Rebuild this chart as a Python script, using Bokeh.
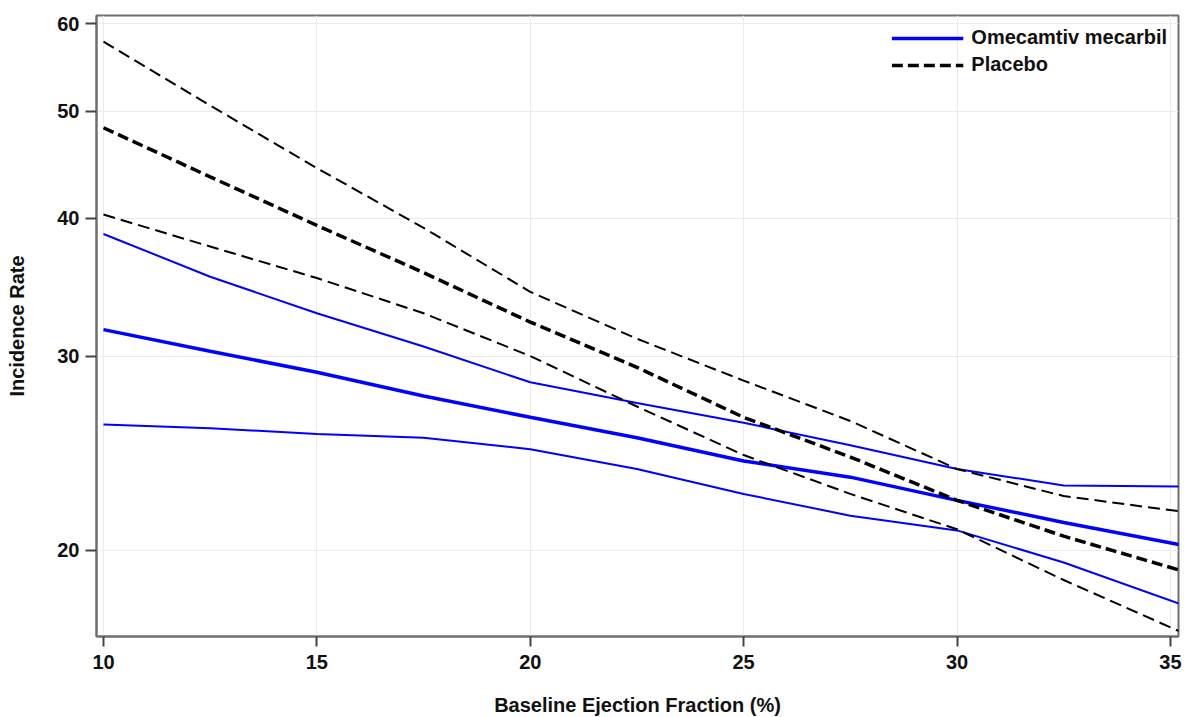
from bokeh.plotting import figure
from bokeh.models import (Range1d, FixedTicker, PrintfTickFormatter, Legend, LegendItem)
from bokeh.embed import file_html
from bokeh.resources import INLINE

# Data
ef = [10, 12.5, 15, 17.5, 20, 22.5, 25, 27.5, 30, 32.5, 35.2]
omecamtiv_est = [31.7, 30.3, 29.0, 27.6, 26.4, 25.3, 24.1, 23.3, 22.2, 21.2, 20.25]
omecamtiv_upper = [38.7, 35.4, 32.8, 30.6, 28.4, 27.2, 26.1, 24.9, 23.7, 22.9, 22.85]
omecamtiv_lower = [26.0, 25.8, 25.5, 25.3, 24.7, 23.7, 22.5, 21.5, 20.85, 19.5, 17.9]
placebo_est = [48.3, 43.6, 39.4, 35.7, 32.2, 29.3, 26.4, 24.3, 22.2, 20.6, 19.2]
placebo_upper = [57.8, 50.6, 44.4, 39.2, 34.3, 31.1, 28.5, 26.2, 23.7, 22.4, 21.7]
placebo_lower = [40.3, 37.7, 35.3, 32.8, 30.0, 27.0, 24.4, 22.5, 20.9, 18.8, 16.9]

x_ticks = [10, 15, 20, 25, 30, 35]
y_ticks = [20, 30, 40, 50, 60]

FONT = "Liberation Sans"
FS = "20px"

p = figure(width=1184, height=717, output_backend="svg", toolbar_location=None,
           y_axis_type="log",
           x_range=Range1d(9.836, 35.19), y_range=Range1d(16.71, 61.05),
           min_border_left=96, min_border_right=6, min_border_top=15, min_border_bottom=81)
p.frame_width = 1082
p.frame_height = 621

p.outline_line_color = "#6e6e6e"
p.outline_line_width = 2

for ax in (p.xaxis[0], p.yaxis[0]):
    ax.axis_line_color = "#6e6e6e"
    ax.axis_line_width = 2
    ax.major_tick_line_color = "#444444"
    ax.major_tick_line_width = 2
    ax.major_tick_in = 0
    ax.minor_tick_line_color = None
    ax.major_label_text_font = FONT
    ax.major_label_text_font_style = "bold"
    ax.major_label_text_font_size = FS
    ax.major_label_text_color = "#111111"
    ax.axis_label_text_font = FONT
    ax.axis_label_text_font_style = "bold"
    ax.axis_label_text_font_size = FS
    ax.axis_label_text_color = "#111111"

p.xaxis.ticker = FixedTicker(ticks=x_ticks)
p.yaxis.ticker = FixedTicker(ticks=y_ticks)
p.xaxis.formatter = PrintfTickFormatter(format="%d")
p.yaxis.formatter = PrintfTickFormatter(format="%d")
p.xaxis.major_tick_out = 10
p.yaxis.major_tick_out = 11
p.xaxis.major_label_standoff = 8
p.yaxis.major_label_standoff = 6
p.xaxis.axis_label = "Baseline Ejection Fraction (%)"
p.yaxis.axis_label = "Incidence Rate"
p.xaxis.axis_label_standoff = 22
p.yaxis.axis_label_standoff = 26

p.xgrid.grid_line_color = "#ebebeb"
p.ygrid.grid_line_color = "#ebebeb"
p.xgrid.grid_line_width = 1
p.ygrid.grid_line_width = 1

BLUE = "#0000ff"
p.line(ef, omecamtiv_upper, line_color=BLUE, line_width=2)
p.line(ef, omecamtiv_lower, line_color=BLUE, line_width=2)
r_om = p.line(ef, omecamtiv_est, line_color=BLUE, line_width=3.5)

p.line(ef, placebo_upper, line_color="black", line_width=2, line_dash="12 6")
p.line(ef, placebo_lower, line_color="black", line_width=2, line_dash="12 6")
r_pl = p.line(ef, placebo_est, line_color="black", line_width=3.5, line_dash="11 5")

legend = Legend(items=[LegendItem(label="Omecamtiv mecarbil", renderers=[r_om]),
                       LegendItem(label="Placebo", renderers=[r_pl])],
                location="top_right")
legend.border_line_alpha = 0
legend.background_fill_alpha = 0
legend.glyph_width = 72
legend.glyph_height = 22
legend.label_height = 22
legend.label_standoff = 8
legend.spacing = 4
legend.margin = 2
legend.padding = 9
legend.label_text_font = FONT
legend.label_text_font_style = "bold"
legend.label_text_font_size = FS
legend.label_text_color = "#111111"
p.add_layout(legend)

open("out.html", "w").write(file_html(p, INLINE))
